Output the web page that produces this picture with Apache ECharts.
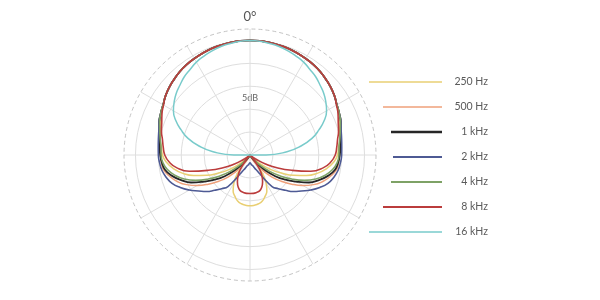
<!DOCTYPE html>
<html>
<head>
<meta charset="utf-8">
<script src="https://cdn.jsdelivr.net/npm/echarts@6/dist/echarts.min.js"></script>
<style>html,body{margin:0;padding:0;background:#fff}#c{width:600px;height:300px}</style>
</head>
<body>
<div id="c"></div>
<script>
// Angles in degrees (0 = front, clockwise), every 5 degrees
const angles = [0,5,10,15,20,25,30,35,40,45,50,55,60,65,70,75,80,85,90,95,100,105,110,115,120,125,130,135,140,145,150,155,160,165,170,175,180,
  185,190,195,200,205,210,215,220,225,230,235,240,245,250,255,260,265,270,275,280,285,290,295,300,305,310,315,320,325,330,335,340,345,350,355,360];

const frequencies = ['250 Hz','500 Hz','1 kHz','2 kHz','4 kHz','8 kHz','16 kHz'];

// Levels in dB relative to on-axis (-25 dB = centre)
const level250 = [0,0,-0.1,-0.2,-0.3,-0.5,-0.7,-0.9,-1.2,-1.6,-2.0,-2.5,-3.1,-3.5,
  -4.2,-4.7,-5.1,-5.6,-5.9,-6.7,-8.0,-9.7,-11.9,-14.5,-17.1,-19.5,-21.7,-23.5,-24.6,-21.5,-18.0,-16.3,-15.4,-14.6,-14.2,-14.0,-13.9,
  -14.0,-14.2,-14.6,-15.4,-16.3,-18.0,-21.5,-24.6,-23.5,-21.7,-19.5,-17.1,-14.5,-11.9,-9.7,-8.0,-6.7,-5.9,-5.6,-5.1,-4.7,-4.2,
  -3.5,-3.1,-2.5,-2.0,-1.6,-1.2,-0.9,-0.7,-0.5,-0.3,-0.2,-0.1,0,0];
const level500 = [0,0,-0.1,-0.2,-0.3,-0.5,-0.7,-0.9,-1.2,-1.6,-2.0,-2.5,-3.1,-3.5,
  -4.0,-4.6,-5.0,-5.4,-5.5,-5.6,-5.9,-6.9,-8.1,-9.7,-11.7,-13.9,-16.1,-18.2,-20.4,-22.4,-23.7,-24.6,-25,-25,-25,-25,-25,
  -25,-25,-25,-25,-24.6,-23.7,-22.4,-20.4,-18.2,-16.1,-13.9,-11.7,-9.7,-8.1,-6.9,-5.9,-5.6,-5.5,-5.4,-5.0,-4.6,-4.0,
  -3.5,-3.1,-2.5,-2.0,-1.6,-1.2,-0.9,-0.7,-0.5,-0.3,-0.2,-0.1,0,0];
const level1k = [0,0,-0.1,-0.2,-0.3,-0.5,-0.7,-0.9,-1.2,-1.6,-2.0,-2.5,-3.1,-3.5,
  -3.9,-4.5,-4.9,-5.2,-5.4,-5.7,-6.2,-7.4,-9.0,-10.8,-13.4,-15.6,-17.8,-20.2,-22.6,-24.1,-24.8,-25,-25,-25,-25,-25,-25,
  -25,-25,-25,-25,-25,-24.8,-24.1,-22.6,-20.2,-17.8,-15.6,-13.4,-10.8,-9.0,-7.4,-6.2,-5.7,-5.4,-5.2,-4.9,-4.5,-3.9,
  -3.5,-3.1,-2.5,-2.0,-1.6,-1.2,-0.9,-0.7,-0.5,-0.3,-0.2,-0.1,0,0];
const level2k = [0,0,-0.1,-0.2,-0.3,-0.5,-0.7,-0.9,-1.2,-1.6,-2.0,-2.5,-3.1,-3.5,
  -3.9,-4.4,-4.7,-4.9,-5.0,-5.2,-5.5,-6.1,-6.9,-8.2,-9.7,-11.3,-12.6,-14.1,-15.4,-16.6,-19.3,-21.1,-21.9,-22.5,-22.8,-23.1,-23.3,
  -23.1,-22.8,-22.5,-21.9,-21.1,-19.3,-16.6,-15.4,-14.1,-12.6,-11.3,-9.7,-8.2,-6.9,-6.1,-5.5,-5.2,-5.0,-4.9,-4.7,-4.4,-3.9,
  -3.5,-3.1,-2.5,-2.0,-1.6,-1.2,-0.9,-0.7,-0.5,-0.3,-0.2,-0.1,0,0];
const level4k = [0,0,-0.1,-0.2,-0.3,-0.5,-0.7,-0.9,-1.2,-1.6,-2.0,-2.5,-3.1,-3.5,
  -4.0,-4.6,-5.1,-5.5,-5.6,-5.9,-6.7,-8.0,-9.7,-11.9,-14.5,-17.1,-19.5,-21.7,-23.5,-24.6,-25,-25,-25,-25,-25,-25,-25,
  -25,-25,-25,-25,-25,-25,-24.6,-23.5,-21.7,-19.5,-17.1,-14.5,-11.9,-9.7,-8.0,-6.7,-5.9,-5.6,-5.5,-5.1,-4.6,-4.0,
  -3.5,-3.1,-2.5,-2.0,-1.6,-1.2,-0.9,-0.7,-0.5,-0.3,-0.2,-0.1,0,0];
const level8k = [0,0,-0.1,-0.2,-0.3,-0.5,-0.7,-0.9,-1.2,-1.6,-2.0,-2.5,-3.2,-3.8,
  -4.5,-5.0,-5.6,-6.0,-6.4,-7.3,-8.8,-11.3,-15.2,-18.3,-21.1,-23.3,-24.6,-25,-24.1,-21.9,-19.8,-18.5,-17.5,-16.9,-16.7,-16.6,-16.6,
  -16.6,-16.7,-16.9,-17.5,-18.5,-19.8,-21.9,-24.1,-25,-24.6,-23.3,-21.1,-18.3,-15.2,-11.3,-8.8,-7.3,-6.4,-6.0,-5.6,-5.0,-4.5,
  -3.8,-3.2,-2.5,-2.0,-1.6,-1.2,-0.9,-0.7,-0.5,-0.3,-0.2,-0.1,0,0];
const level16k = [0,-0.1,-0.3,-0.5,-0.8,-1.2,-1.6,-2.2,-2.7,-3.4,-4.0,-4.8,-5.7,-7.1,-9.0,-11.0,-13.7,-16.9,-21.5,
  -25,-25,-25,-25,-25, -25,-25,-25,-25,-25, -25,-25,-25,-25,-25, -25,-25,-25,-25,-25,
  -25,-25,-25,-25,-25, -25,-25,-25,-25,-25, -25,-25,-25,-25,-25,
  -21.5,-16.9,-13.7,-11.0,-9.0,-7.1,-5.7,-4.8,-4.0,-3.4,-2.7,-2.2,-1.6,-1.2,-0.8,-0.5,-0.3,-0.1,0];

// Tick / axis labels
const angleLabels = ['0°'];
const ringLabel = '5dB';

const levels = [level250, level500, level1k, level2k, level4k, level8k, level16k];
const colors = ['#e9cf73','#efa07a','#262626','#4e5a94','#7ea266','#bb3c3c','#79cbcb'];
const lineWidths = [1.5,1.5,1.8,1.6,1.6,1.6,1.5];
const legendStart = [0,14,22,24,22,14,0];
const legendThick = [1.4,1.4,2.4,1.8,1.8,1.8,1.4];

const chart = echarts.init(document.getElementById('c'), null, {renderer:'canvas'});
const grid = '#dedede';
chart.setOption({
  animation: false,
  backgroundColor: '#fff',
  polar: { center: [250, 155], radius: 126 },
  angleAxis: {
    type: 'value', min: 0, max: 360, interval: 30, startAngle: 90, clockwise: true,
    axisLine: { show: true, lineStyle: { color: '#c4c4c4', type: [4, 3], width: 1 } },
    axisTick: { show: false },
    axisLabel: { show: true, margin: 6, fontSize: 13, color: '#555', fontFamily: 'Lato',
      formatter: v => (v === 0 ? angleLabels[0] : '') },
    splitLine: { show: true, lineStyle: { color: grid, width: 1 } }
  },
  radiusAxis: {
    type: 'value', min: -25, max: 2.5, interval: 5,
    axisLine: { show: false }, axisTick: { show: false }, axisLabel: { show: false },
    splitLine: { show: true, lineStyle: { width: 1,
      color: [grid, grid, grid, grid, grid, grid, 'rgba(0,0,0,0)'] } }
  },
  legend: {
    orient: 'vertical', left: 369, top: 75, padding: 0,
    itemWidth: 78, itemHeight: 14, itemGap: 11, selectedMode: false,
    itemStyle: { borderWidth: 0 },
    data: frequencies.map((name, i) => {
      const a = (7 - legendThick[i] / 2).toFixed(2), b = (7 + legendThick[i] / 2).toFixed(2);
      return { name, icon: 'path://M0,0M78,14M' + legendStart[i] + ',' + a + 'H73V' + b + 'H' + legendStart[i] + 'Z' };
    }),
    formatter: n => '{t|' + n + '}',
    textStyle: { rich: { t: { width: 36, align: 'right', fontSize: 10.5, fontFamily: 'Lato', color: '#5a5a5a', lineHeight: 14 } } }
  },
  graphic: [{
    type: 'text', x: 250, y: 98, z: 0,
    style: { text: ringLabel, align: 'center', verticalAlign: 'middle', fontSize: 9, fontFamily: 'Lato', fill: '#666' }
  }],
  series: frequencies.map((name, i) => ({
    name, type: 'line', coordinateSystem: 'polar',
    data: angles.map((a, j) => [levels[i][j], a]),
    smooth: 0.5, symbol: 'none', showSymbol: false, silent: true,
    lineStyle: { color: colors[i], width: lineWidths[i] },
    itemStyle: { color: colors[i] }
  }))
});
</script>
</body>
</html>
